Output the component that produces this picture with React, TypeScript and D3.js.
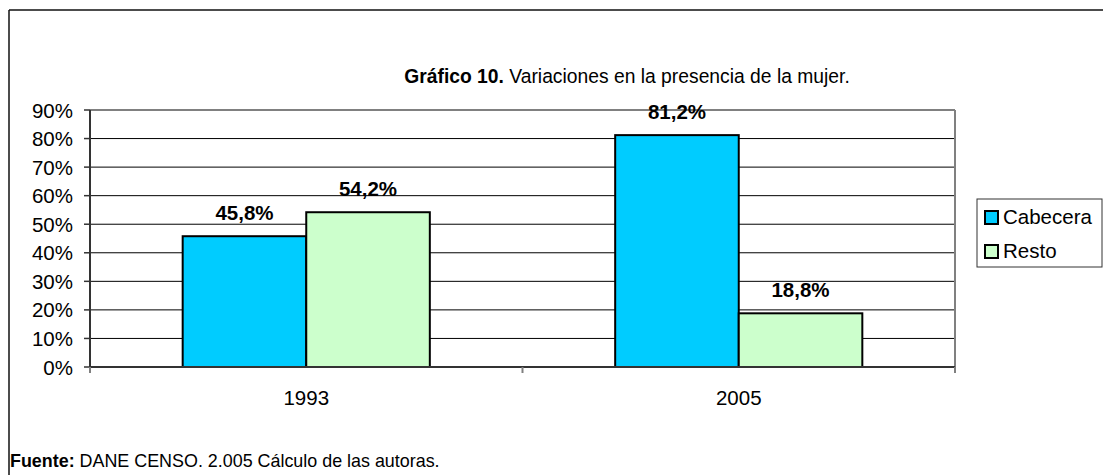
import React from 'react'
import * as d3 from 'd3'

const years = ['1993', '2005']
const seriesNames = ['Cabecera', 'Resto']
const cabecera = [45.8, 81.2]
const resto = [54.2, 18.8]
const seriesColors = ['#00ccff', '#ccffcc']
const yTicks = [0, 10, 20, 30, 40, 50, 60, 70, 80, 90]

const W = 1103
const H = 475
const font = '"Liberation Sans", Arial, sans-serif'

const App = () => {
  const left = 90, right = 955, top = 110, bottom = 367
  const values = [cabecera, resto]

  const x = d3.scaleBand().domain(years).range([left, right])
  // gap width 150% like excel
  const barW = x.bandwidth() / (seriesNames.length + 1.5)
  const y = d3.scaleLinear().domain([0, 90]).range([bottom, top])
  const fmt = (v: number) => v.toFixed(1).replace('.', ',') + '%'

  return (
    <svg width={W} height={H} style={{ position: 'absolute', left: 0, top: 0, background: '#fff' }}>
      {/* outer frame (cut at right/bottom) */}
      <line x1={9} x2={W} y1={10} y2={10} stroke="#111" strokeWidth={1.5} />
      <line x1={9} x2={9} y1={10} y2={H} stroke="#111" strokeWidth={1.5} />

      <text x={627} y={83} textAnchor="middle" fontFamily={font} fontSize={19.3}>
        <tspan fontWeight="bold">Gráfico 10.</tspan> Variaciones en la presencia de la mujer.
      </text>

      {/* gridlines */}
      {yTicks.slice(1, -1).map(t => (
        <line key={t} x1={left} x2={right} y1={y(t)} y2={y(t)} stroke="#000" strokeWidth={1} />
      ))}
      {/* plot border top/right */}
      <line x1={left} x2={right} y1={y(90)} y2={y(90)} stroke="#808080" strokeWidth={2} />
      <line x1={right} x2={right} y1={y(90)} y2={bottom} stroke="#808080" strokeWidth={2} />

      {/* bars */}
      {years.map((yr, i) => values.map((vals, s) => {
        const bx = x(yr)! + barW * 0.75 + s * barW
        return (
          <g key={yr + s}>
            <rect x={bx} y={y(vals[i])} width={barW} height={bottom - y(vals[i])}
              fill={seriesColors[s]} stroke="#000" strokeWidth={2} />
            <text x={bx + barW / 2} y={y(vals[i]) - 16.5} textAnchor="middle"
              fontFamily={font} fontSize={20.5} fontWeight="bold">{fmt(vals[i])}</text>
          </g>
        )
      }))}

      {/* y axis */}
      <line x1={left} x2={left} y1={y(90)} y2={bottom} stroke="#333" strokeWidth={2} />
      {yTicks.map(t => (
        <g key={t}>
          <line x1={left - 6} x2={left} y1={y(t)} y2={y(t)} stroke="#333" strokeWidth={1.5} />
          <text x={73} y={y(t) + 7.5} textAnchor="end" fontFamily={font} fontSize={20.5}>{t}%</text>
        </g>
      ))}

      {/* x axis */}
      <line x1={left} x2={right} y1={bottom} y2={bottom} stroke="#333" strokeWidth={2} />
      {[left, ...years.map(yr => x(yr)! + x.bandwidth())].map((px, i) => (
        <line key={i} x1={px} x2={px} y1={bottom} y2={bottom + 6} stroke="#808080" strokeWidth={2} />
      ))}
      {years.map(yr => (
        <text key={yr} x={x(yr)! + x.bandwidth() / 2} y={405} textAnchor="middle"
          fontFamily={font} fontSize={20.5}>{yr}</text>
      ))}

      {/* legend */}
      <rect x={977} y={199} width={125} height={68} fill="#fff" stroke="#333" strokeWidth={1} />
      {seriesNames.map((n, i) => (
        <g key={n}>
          <rect x={985} y={211 + i * 34} width={13} height={13} fill={seriesColors[i]} stroke="#000" strokeWidth={2} />
          <text x={1003} y={224 + i * 34} fontFamily={font} fontSize={20.5}>{n}</text>
        </g>
      ))}

      <text x={10} y={467} fontFamily={font} fontSize={17.9}>
        <tspan fontWeight="bold">Fuente:</tspan> DANE CENSO. 2.005 Cálculo de las autoras.
      </text>
    </svg>
  )
}

export default App
